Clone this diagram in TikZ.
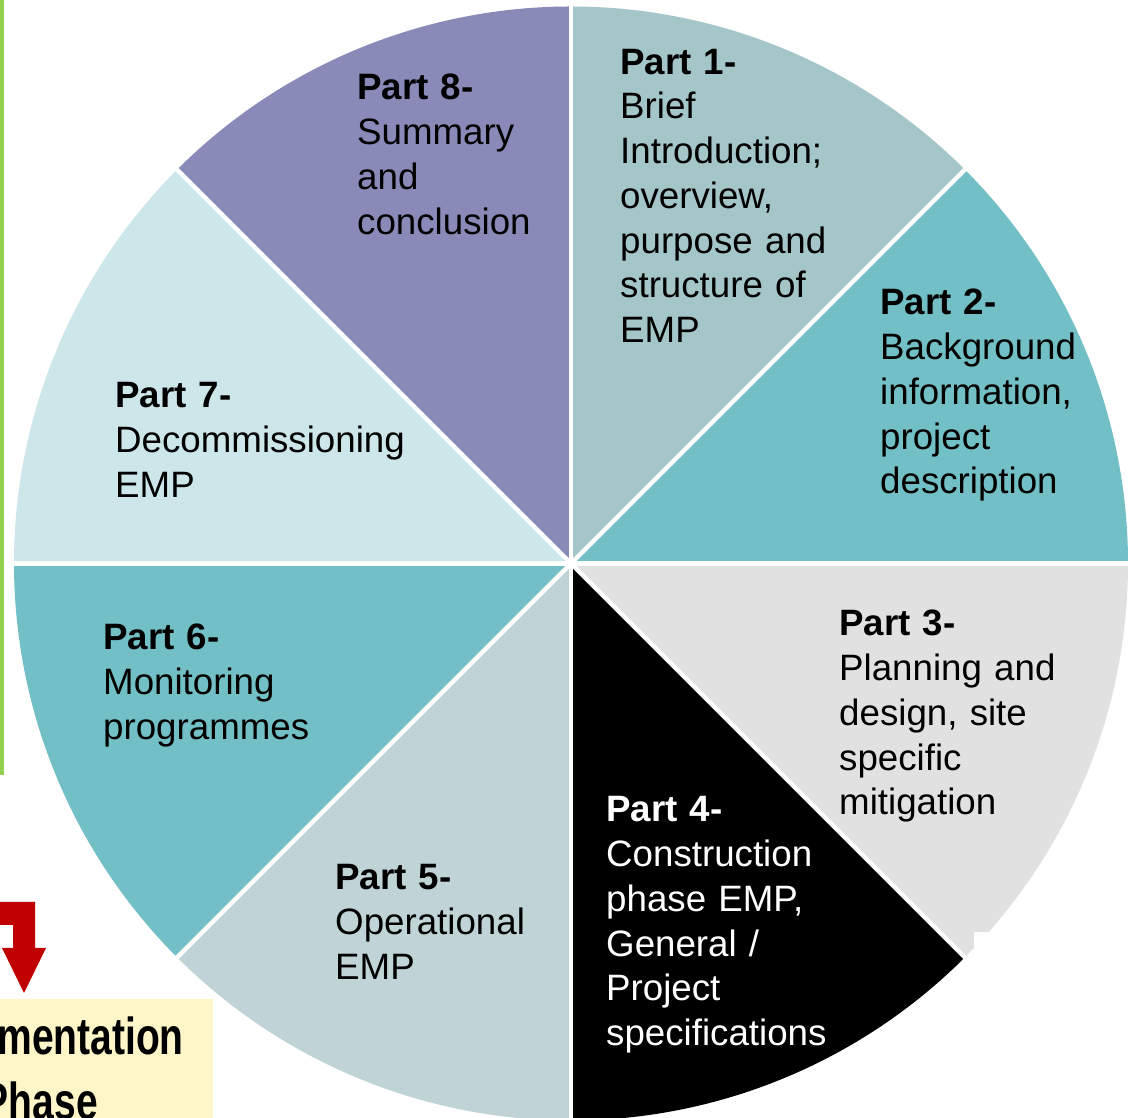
\documentclass[tikz,border=0pt]{standalone}
\usepackage{fontspec}
\setmainfont{Liberation Sans}
\usepackage{graphicx}
\definecolor{cteal}{HTML}{72BFC5}
\definecolor{cone}{HTML}{A5C6C8}
\definecolor{ceight}{HTML}{8A8AB8}
\definecolor{cseven}{HTML}{CDE6EA}
\definecolor{cfive}{HTML}{C0D3D6}
\definecolor{cthree}{HTML}{E1E1E1}
\definecolor{cgreen}{HTML}{92D050}
\definecolor{cred}{HTML}{C00000}
\definecolor{cyel}{HTML}{FEF5C9}
\tikzset{
  lbl/.style={anchor=base west, inner sep=0pt, align=left, text width=420pt,
    font=\fontsize{36.7}{44.7}\selectfont},
  sep/.style={white, line width=4.5pt},
  phase/.style={inner sep=0pt, anchor=base east, font=\bfseries\fontsize{52}{62}\selectfont}
}
\begin{document}
\begin{tikzpicture}[x=1pt,y=1pt]
\useasboundingbox (0,0) rectangle (1130,1118);
\clip (0,0) rectangle (1130,1118);
\fill[white] (0,0) rectangle (1130,1118);
\coordinate (c) at (571,554.5);
% sectors
\fill[cteal]  (c) -- ++(0:557)   arc[start angle=0,   end angle=45,  radius=557] -- cycle;
\fill[cone]   (c) -- ++(45:557)  arc[start angle=45,  end angle=90,  radius=557] -- cycle;
\fill[ceight] (c) -- ++(90:557)  arc[start angle=90,  end angle=135, radius=557] -- cycle;
\fill[cseven] (c) -- ++(135:557) arc[start angle=135, end angle=180, radius=557] -- cycle;
\fill[cteal]  (c) -- ++(180:557) arc[start angle=180, end angle=225, radius=557] -- cycle;
\fill[cfive]  (c) -- ++(225:557) arc[start angle=225, end angle=270, radius=557] -- cycle;
\fill[black]  (c) -- ++(270:557) arc[start angle=270, end angle=315, radius=557] -- cycle;
\fill[cthree] (c) -- ++(315:557) arc[start angle=315, end angle=360, radius=557] -- cycle;
% separators
\foreach \a in {0,45,...,315} { \draw[sep] (c) -- ++(\a:562); }
% notch
\fill[white] (974,150) rectangle (1002,186);
% left green bar
\fill[cgreen] (0,343) rectangle (4,1118);
% red bent arrow
\fill[cred] (-5,216) -- (35,216) -- (35,170) -- (46,170) -- (24,125) -- (2,170) -- (13,170) -- (13,193) -- (-5,193) -- cycle;
% yellow box
\fill[cyel] (-5,-5) rectangle (213,119);
\node[phase] (impl) at (184,63) {\scalebox{0.75}[1]{mentation}};
\node[phase] (ph) at (98,-2) {\scalebox{0.75}[1]{Phase}};
% labels
\node[lbl] (p1) at (620,1043.7) {\textbf{Part 1-}\\Brief\\Introduction;\\overview,\\purpose and\\structure of\\EMP};
\node[lbl] (p2) at (880,803) {\textbf{Part 2-}\\Background\\information,\\project\\description};
\node[lbl] (p3) at (839,482) {\textbf{Part 3-}\\Planning and\\design, site\\specific\\mitigation};
\node[lbl, text=white] (p4) at (606,296) {\textbf{Part 4-}\\Construction\\phase EMP,\\General /\\Project\\specifications};
\node[lbl] (p5) at (335,228) {\textbf{Part 5-}\\Operational\\EMP};
\node[lbl] (p6) at (103,468) {\textbf{Part 6-}\\Monitoring\\programmes};
\node[lbl] (p7) at (115,710) {\textbf{Part 7-}\\Decommissioning\\EMP};
\node[lbl] (p8) at (357,1018) {\textbf{Part 8-}\\Summary\\and\\conclusion};
\end{tikzpicture}
\end{document}
